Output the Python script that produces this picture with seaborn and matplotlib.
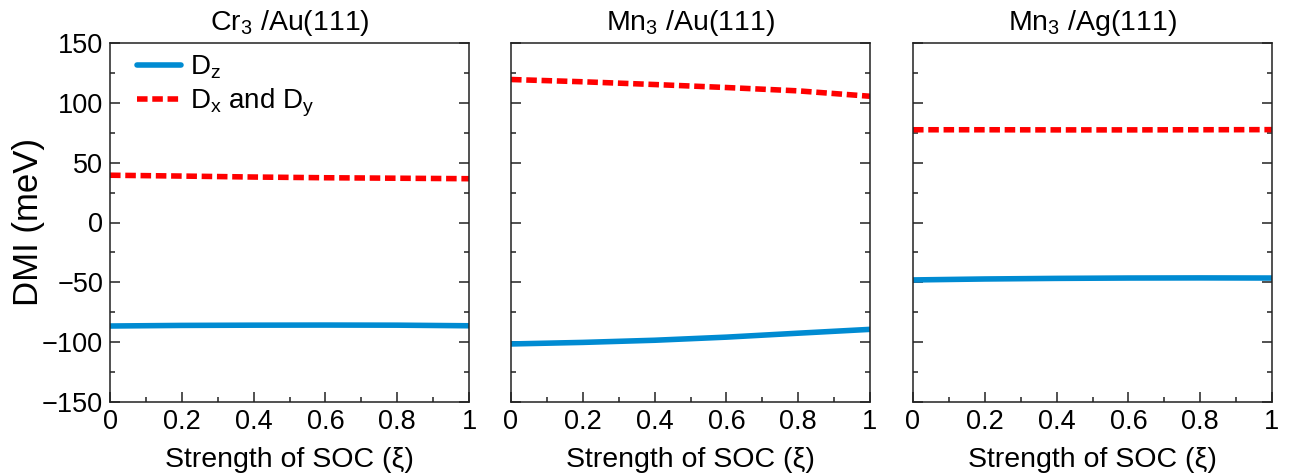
import numpy as np
import pandas as pd
import seaborn as sns
import matplotlib
matplotlib.use("Agg")
import matplotlib.pyplot as plt
from matplotlib.ticker import MultipleLocator

# ---- data ----
soc = [0.0, 0.2, 0.4, 0.6, 0.8, 1.0]
titles = ["Cr$_3$ /Au(111)", "Mn$_3$ /Au(111)", "Mn$_3$ /Ag(111)"]
dz_cr3_au = [-86.5, -86.0, -85.8, -85.7, -85.8, -86.3]
dxy_cr3_au = [39.5, 38.8, 38.0, 37.4, 37.0, 36.6]
dz_mn3_au = [-101.5, -100.2, -98.4, -95.8, -92.5, -89.3]
dxy_mn3_au = [119.5, 117.6, 115.3, 112.8, 110.0, 105.5]
dz_mn3_ag = [-48.0, -47.2, -46.7, -46.4, -46.3, -46.4]
dxy_mn3_ag = [77.5, 77.5, 77.4, 77.4, 77.5, 77.6]

label_z = "D$_z$"
label_xy = "D$_x$ and D$_y$"

rows = []
for t, dz, dxy in zip(titles, [dz_cr3_au, dz_mn3_au, dz_mn3_ag],
                      [dxy_cr3_au, dxy_mn3_au, dxy_mn3_ag]):
    for x, a, b in zip(soc, dz, dxy):
        rows.append(dict(system=t, soc=x, dmi=a, comp=label_z))
        rows.append(dict(system=t, soc=x, dmi=b, comp=label_xy))
df = pd.DataFrame(rows)

sns.set_style("ticks")
plt.rcParams["font.family"] = ["Liberation Sans", "DejaVu Sans"]
plt.rcParams["mathtext.fontset"] = "custom"
plt.rcParams["mathtext.rm"] = "Liberation Sans"
plt.rcParams["mathtext.it"] = "Liberation Sans:italic"
plt.rcParams["mathtext.default"] = "regular"
plt.rcParams["text.color"] = "black"
plt.rcParams["axes.labelcolor"] = "black"
plt.rcParams["xtick.color"] = "black"
plt.rcParams["ytick.color"] = "black"

fig = plt.figure(figsize=(12.89, 4.76), dpi=100)
lefts = [110 / 1289, 511 / 1289, 913 / 1289]
w = 359 / 1289
b = 1 - 402 / 476
h = 359 / 476

blue = "#008bd2"
red = "#ff0000"

axes = []
for i, (t, L) in enumerate(zip(titles, lefts)):
    ax = fig.add_axes([L, b, w, h])
    axes.append(ax)
    sub = df[df.system == t]
    sns.lineplot(data=sub, x="soc", y="dmi", hue="comp", style="comp",
                 palette={label_z: blue, label_xy: red},
                 dashes={label_z: "", label_xy: (1.9, 0.85)},
                 linewidth=4, ax=ax, legend=(i == 0))
    ax.set_xlim(0, 1)
    ax.set_ylim(-150, 150)
    ax.xaxis.set_major_locator(MultipleLocator(0.2))
    ax.xaxis.set_minor_locator(MultipleLocator(0.1))
    ax.yaxis.set_major_locator(MultipleLocator(50))
    ax.yaxis.set_minor_locator(MultipleLocator(25))
    ax.set_xticks([0, 0.2, 0.4, 0.6, 0.8, 1.0])
    ax.set_xticklabels(["0", "0.2", "0.4", "0.6", "0.8", "1"])
    ax.tick_params(which="both", direction="in", left=True, right=True,
                   top=False, bottom=True, width=1.1, color="#222222")
    ax.tick_params(which="major", length=7, labelsize=19.5, pad=5)
    ax.tick_params(which="minor", length=3.5)
    for s in ax.spines.values():
        s.set_linewidth(1.1)
        s.set_color("#222222")
    ax.set_title(t, fontsize=20.5, pad=9)
    ax.set_xlabel("Strength of SOC (ξ)", fontsize=20.5, labelpad=9)
    if i == 0:
        ax.set_ylabel("DMI (meV)", fontsize=25, labelpad=-2)
        leg = ax.legend(loc="upper left", bbox_to_anchor=(0.075, 0.97),
                        frameon=False, fontsize=20, handlelength=1.6,
                        handletextpad=0.3, labelspacing=0.2,
                        borderaxespad=0, borderpad=0, title=None)
    else:
        ax.set_ylabel("")
        ax.set_yticklabels([])

fig.savefig("out.png", dpi=100)
